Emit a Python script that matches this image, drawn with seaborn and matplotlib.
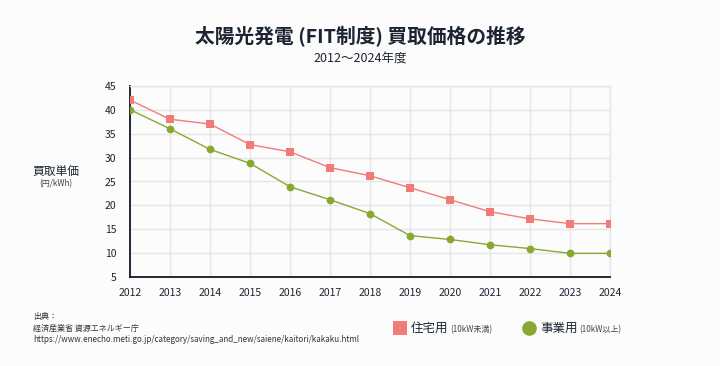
import matplotlib
matplotlib.use("Agg")
import matplotlib.pyplot as plt
import seaborn as sns
import pandas as pd
from matplotlib.lines import Line2D

years = [2012, 2013, 2014, 2015, 2016, 2017, 2018, 2019, 2020, 2021, 2022, 2023, 2024]
residential = [42, 38, 37, 32.7, 31.2, 27.9, 26.2, 23.7, 21.2, 18.7, 17.2, 16.2, 16.2]
business = [40, 36, 31.7, 28.8, 23.9, 21.2, 18.3, 13.7, 12.9, 11.8, 11.0, 10.0, 10.0]
series_names = ["住宅用", "事業用"]
series_notes = ["(10kW未満)", "(10kW以上)"]
yticks = [5, 10, 15, 20, 25, 30, 35, 40, 45]

RED = "#F07B78"
GREEN = "#88A832"
TXT = "#1B2430"
BG = "#FCFCFC"

sns.set_theme(style="white")
plt.rcParams["font.family"] = ["Noto Sans CJK JP", "DejaVu Sans"]

df = pd.DataFrame({
    "year": years * 2,
    "price": residential + business,
    "type": [series_names[0]] * len(years) + [series_names[1]] * len(years),
})

fig = plt.figure(figsize=(7.2, 3.66), dpi=100, facecolor=BG)
ax = fig.add_axes([130/720, 1 - 277.3/366, 480/720, (277.3 - 85.7)/366])
ax.set_facecolor(BG)

sns.lineplot(data=df[df["type"] == series_names[0]], x="year", y="price", ax=ax,
             color=RED, marker="s", markersize=5.2, markeredgewidth=0, linewidth=1.0,
             legend=False, zorder=3)
sns.lineplot(data=df[df["type"] == series_names[1]], x="year", y="price", ax=ax,
             color=GREEN, marker="o", markersize=5.6, markeredgewidth=0, linewidth=1.0,
             legend=False, zorder=3)

ax.set_xlim(years[0], years[-1])
ax.set_ylim(5, 45)
ax.set_xticks(years)
ax.set_xticklabels([str(y) for y in years], fontsize=7.5, color=TXT)
ax.set_yticks(yticks)
ax.set_yticklabels([str(v) for v in yticks], fontsize=7.5, color=TXT)
ax.tick_params(axis="both", length=0, pad=8)
ax.tick_params(axis="y", pad=10)
ax.grid(True, color="#E6E6E6", linewidth=1.0)
ax.set_xlabel("")
ax.set_ylabel("")
for s in ["top", "right"]:
    ax.spines[s].set_color("#E6E6E6")
    ax.spines[s].set_linewidth(1.0)
for s in ["left", "bottom"]:
    ax.spines[s].set_color("#0E1A26")
    ax.spines[s].set_linewidth(1.3)

# Titles
fig.text(0.5, 1 - 37/366, "太陽光発電 (FIT制度) 買取価格の推移", ha="center", va="center",
         fontsize=14.2, fontweight="bold", color=TXT)
fig.text(0.5, 1 - 58/366, "2012～2024年度", ha="center", va="center", fontsize=9, color=TXT)

# Y label
fig.text(56/720, 1 - 171/366, "買取単価", ha="center", va="center", fontsize=8.5, color=TXT)
fig.text(56/720, 1 - 184/366, "(円/kWh)", ha="center", va="center", fontsize=5.8, color="#444")

# Source
fig.text(33/720, 1 - 316/366, "出典：", ha="left", va="center", fontsize=5.8, color="#333")
fig.text(33/720, 1 - 328/366, "経済産業省 資源エネルギー庁", ha="left", va="center", fontsize=5.8, color="#333")
fig.text(33/720, 1 - 340/366, "https://www.enecho.meti.go.jp/category/saving_and_new/saiene/kaitori/kakaku.html",
         ha="left", va="center", fontsize=5.8, color="#333")

# Legend
fig.add_artist(Line2D([400/720], [1 - 328/366], marker="s", markersize=9.5, color=RED,
                      markeredgewidth=0, linestyle="none", transform=fig.transFigure))
fig.text(411/720, 1 - 328/366, series_names[0], ha="left", va="center", fontsize=9, color=TXT)
fig.text(450/720, 1 - 329.5/366, series_notes[0], ha="left", va="center", fontsize=5.8, color="#444")
fig.add_artist(Line2D([529/720], [1 - 328/366], marker="o", markersize=10.5, color=GREEN,
                      markeredgewidth=0, linestyle="none", transform=fig.transFigure))
fig.text(540/720, 1 - 328/366, series_names[1], ha="left", va="center", fontsize=9, color=TXT)
fig.text(579/720, 1 - 329.5/366, series_notes[1], ha="left", va="center", fontsize=5.8, color="#444")

fig.savefig("out.png", dpi=100, facecolor=BG)
